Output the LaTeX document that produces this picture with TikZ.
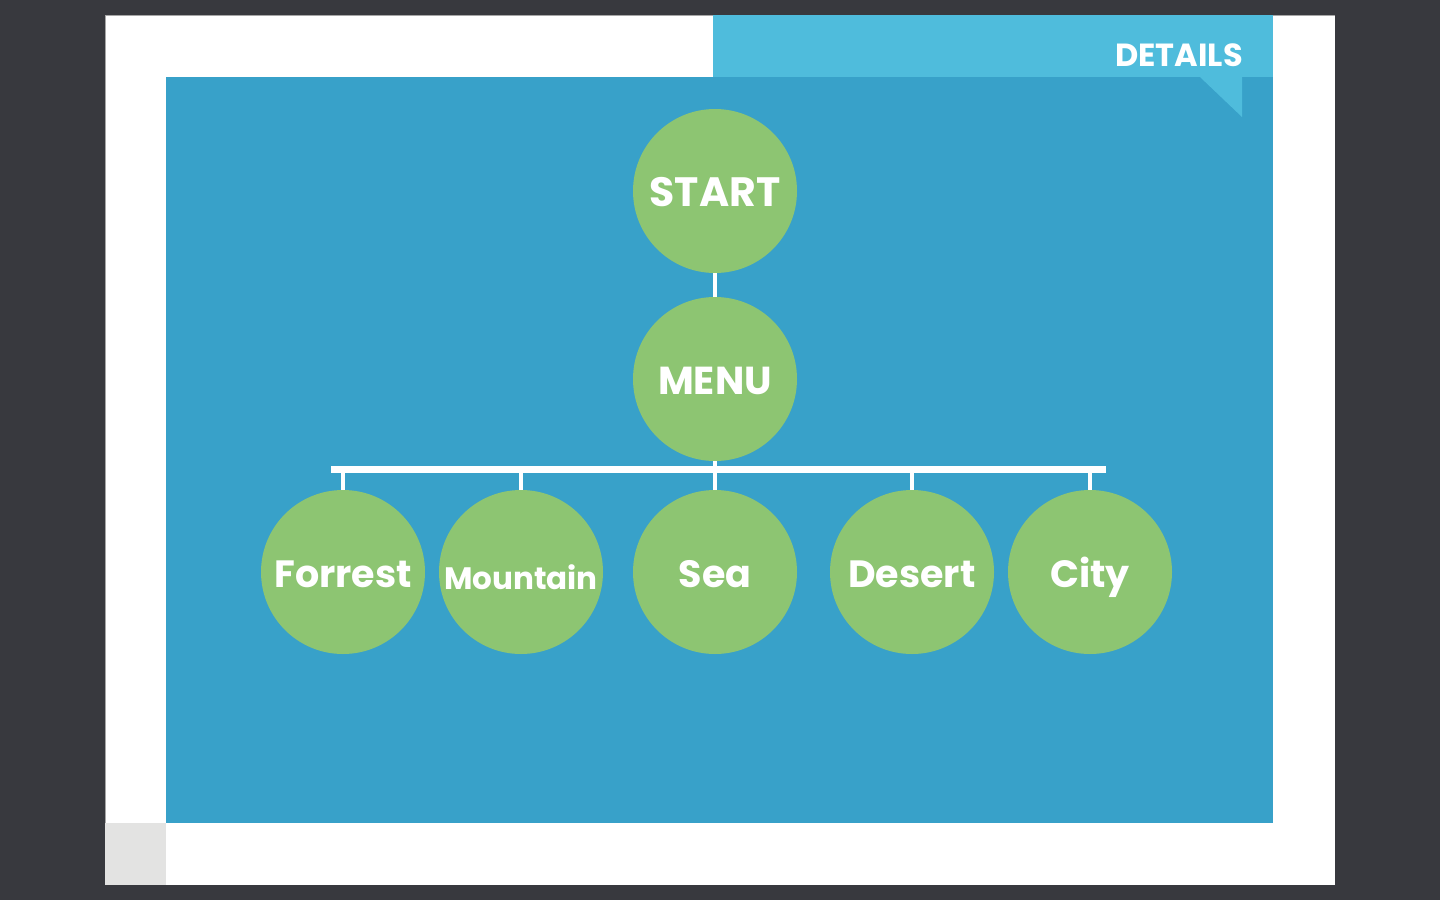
\documentclass[tikz,border=0pt]{standalone}
\usepackage{fontspec}
\setmainfont{Poppins}
\definecolor{frame}{HTML}{38393E}
\definecolor{panel}{HTML}{38A1C9}
\definecolor{tab}{HTML}{4FBCDC}
\definecolor{leaf}{HTML}{8DC572}
\definecolor{corner}{HTML}{E3E3E2}
\begin{document}
\begin{tikzpicture}[x=1pt,y=-1pt,
  bubble/.style={circle,fill=leaf,minimum size=164pt,inner sep=0pt,
    text=white,text height=30pt,text depth=0pt,
    font=\bfseries\fontsize{38}{40}\selectfont},
  link/.style={draw=white,line width=4pt},
  bar/.style={draw=white,line width=7pt}]
\useasboundingbox (0,0) rectangle (1440,900);
% dark backdrop and white card
\fill[frame] (0,0) rectangle (1440,900);
\fill[white] (105,15) rectangle (1335,885);
\draw[gray!70,line width=0.8pt] (105,885) -- (105,15) -- (1335,15);
\fill[corner] (105,823) rectangle (166,885);
% main panel and tab
\fill[panel] (166,77) rectangle (1273,823);
\fill[tab] (713,15) rectangle (1273,77);
\fill[tab] (1200,77) -- (1242,77) -- (1242,117) -- cycle;
\node[anchor=base east,text=white,inner sep=0pt,
  font=\bfseries\fontsize{32}{34}\selectfont] (details) at (1243,66) {DETAILS};
% nodes
\node[bubble,font=\bfseries\fontsize{41}{42}\selectfont] (start) at (715,191) {START};
\node[bubble,font=\bfseries\fontsize{39}{40}\selectfont] (menu) at (715,379) {MENU};
\node[bubble] (forrest) at (343,572) {Forrest};
\node[bubble,font=\bfseries\fontsize{31}{33}\selectfont,text height=34pt] (mountain) at (521,572) {Mountain};
\node[bubble] (sea) at (715,572) {Sea};
\node[bubble] (desert) at (912,572) {Desert};
\node[bubble] (city) at (1090,572) {City};
% connectors
\coordinate (barL) at (331,469);
\coordinate (barR) at (1106,469);
\draw[link] (start) -- (menu);
\draw[bar] (barL) -- (barR);
\draw[link] (menu.south) -- (menu.south |- barL);
\foreach \n in {forrest,mountain,sea,desert,city}
  \draw[link] (\n.north) -- (\n.north |- barL);
\end{tikzpicture}
\end{document}
